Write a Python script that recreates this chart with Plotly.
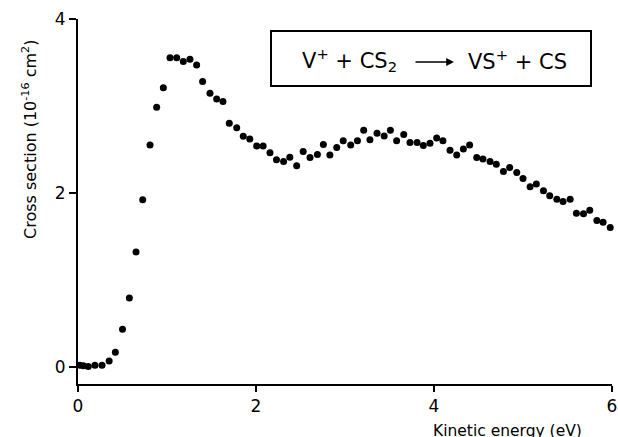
import plotly.graph_objects as go

energy_ev = [0.02, 0.06, 0.115, 0.19, 0.27, 0.35, 0.42, 0.50, 0.577, 0.652,
             0.727, 0.809, 0.884, 0.959, 1.034, 1.109, 1.183, 1.258, 1.333, 1.40,
             1.483, 1.558, 1.629, 1.70, 1.783, 1.857, 1.93,
             2.008, 2.08, 2.157, 2.23, 2.31, 2.38, 2.457, 2.53, 2.607, 2.69,
             2.757, 2.83, 2.907, 2.98,
             3.064, 3.14, 3.21, 3.28, 3.36, 3.44, 3.51, 3.58, 3.66, 3.73,
             3.81, 3.88, 3.955,
             4.03, 4.10, 4.18, 4.255, 4.33, 4.40, 4.48, 4.55, 4.63, 4.70,
             4.78, 4.85, 4.93,
             5.00, 5.08, 5.15, 5.23, 5.30, 5.38, 5.45, 5.53, 5.60, 5.68,
             5.75, 5.83, 5.90, 5.98]

cross_section = [0.015, 0.01, 0.0, 0.015, 0.015, 0.065, 0.165, 0.43, 0.79, 1.32,
                 1.92, 2.55, 2.985, 3.21, 3.555, 3.555, 3.51, 3.536, 3.47, 3.28,
                 3.145, 3.08, 3.05, 2.80, 2.75, 2.65, 2.62,
                 2.54, 2.54, 2.46, 2.38, 2.36, 2.41, 2.31, 2.475, 2.405, 2.44,
                 2.555, 2.435, 2.52, 2.60,
                 2.55, 2.60, 2.72, 2.61, 2.685, 2.655, 2.72, 2.60, 2.67, 2.58,
                 2.58, 2.545, 2.57,
                 2.63, 2.60, 2.49, 2.435, 2.505, 2.55, 2.405, 2.39, 2.36, 2.33,
                 2.245, 2.29, 2.235,
                 2.165, 2.07, 2.10, 2.025, 1.965, 1.925, 1.90, 1.925, 1.765, 1.76,
                 1.80, 1.68, 1.66, 1.60]

x_ticks = [0, 2, 4, 6]
y_ticks = [0, 2, 4]

reactants = "V<sup>+</sup> + CS<sub>2</sub>"
products = "VS<sup>+</sup> + CS"

FONT = "DejaVu Sans"

W, H = 618, 437
PL, PR, PT, PB = 78, 612, 19, 384
PW, PH = PR - PL, PB - PT


def px(xw):
    return (xw - PL) / PW


def py(yw):
    return (PB - yw) / PH


fig = go.Figure()
fig.add_trace(go.Scatter(
    x=energy_ev, y=cross_section, mode="markers",
    marker=dict(color="black", size=7),
    cliponaxis=False, showlegend=False, hoverinfo="skip",
))

fig.update_layout(
    width=W, height=H,
    margin=dict(l=PL, r=W - PR, t=PT, b=H - PB, autoexpand=False),
    paper_bgcolor="white", plot_bgcolor="white",
    font=dict(family=FONT, color="black"),
    xaxis=dict(
        range=[0, 6], tickvals=x_ticks, ticktext=[str(v) for v in x_ticks],
        showgrid=False, zeroline=False, showline=True, linecolor="black",
        linewidth=2, ticks="outside", ticklen=6, tickwidth=2, tickcolor="black",
        tickfont=dict(size=17, family=FONT), automargin=False,
    ),
    yaxis=dict(
        range=[-0.2, 4], tickvals=y_ticks, ticktext=[str(v) for v in y_ticks],
        showgrid=False, zeroline=False, showline=True, linecolor="black",
        linewidth=2, ticks="outside", ticklen=7, tickwidth=2, tickcolor="black",
        tickfont=dict(size=17, family=FONT), automargin=False,
    ),
)

fig.add_annotation(
    xref="paper", yref="paper", x=px(29), y=py(140),
    xanchor="center", yanchor="middle", showarrow=False, textangle=-90,
    text="Cross section (10<sup>-16</sup> cm<sup>2</sup>)",
    font=dict(size=16, family=FONT),
)

fig.add_annotation(
    xref="paper", yref="paper", x=px(507), y=py(431),
    xanchor="center", yanchor="middle", showarrow=False,
    text="Kinetic energy (eV)", font=dict(size=15.5, family=FONT),
)

fig.add_shape(type="rect", xref="paper", yref="paper",
              x0=px(271), x1=px(591), y0=py(86), y1=py(31),
              line=dict(color="black", width=2), fillcolor="white")

fig.add_annotation(
    xref="paper", yref="paper", x=px(300), y=py(60),
    xanchor="left", yanchor="middle", showarrow=False,
    text=reactants, font=dict(size=21, family=FONT),
)
fig.add_annotation(
    xref="paper", yref="paper", x=px(466), y=py(60),
    xanchor="left", yanchor="middle", showarrow=False,
    text=products, font=dict(size=21, family=FONT),
)
fig.add_annotation(
    xref="paper", yref="paper", x=px(454), y=py(62),
    ax=-40, ay=0, axref="pixel", ayref="pixel",
    showarrow=True, arrowhead=2, arrowsize=1.2, arrowwidth=1.3,
    arrowcolor="black", text="",
)

fig.write_html("out.html", config={"displayModeBar": False},
               post_script="document.body.style.margin='0px';")
